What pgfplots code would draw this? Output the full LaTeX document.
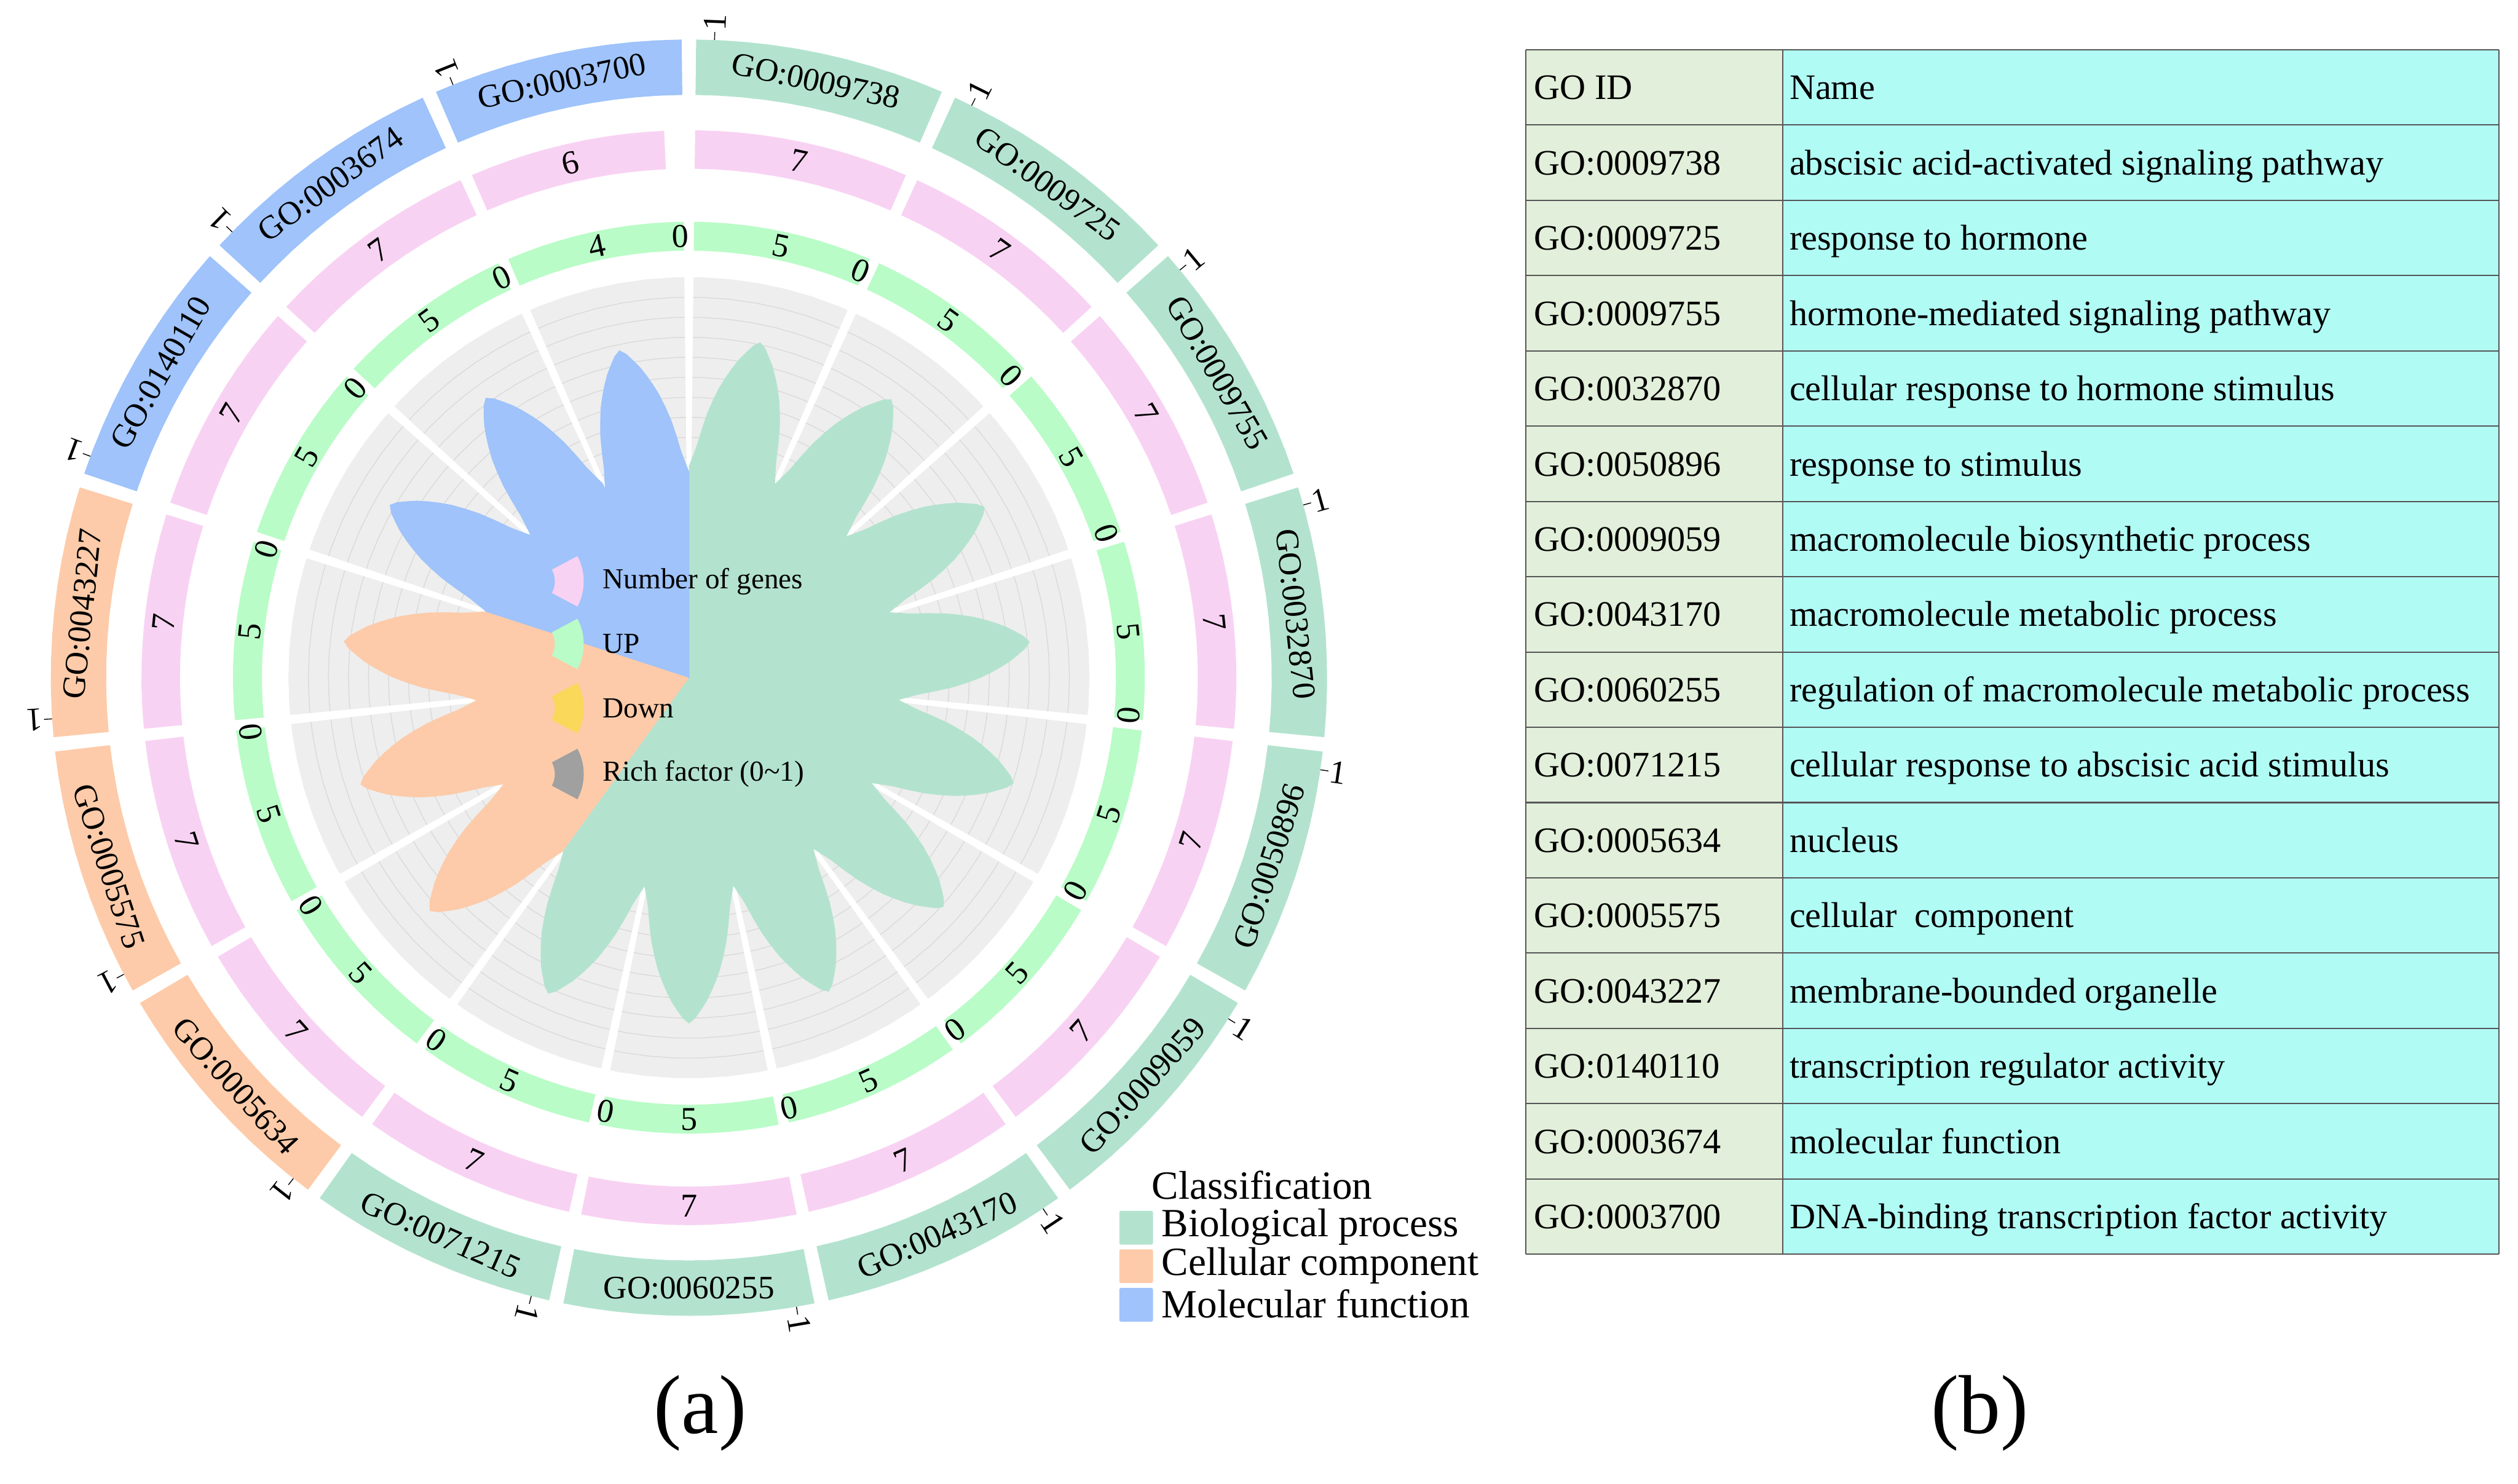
\documentclass[border=0pt]{standalone}
\usepackage{fontspec}
\setmainfont{Liberation Serif}
\usepackage{pgfplots}
\pgfplotsset{compat=1.18}
\usepackage{pgfplotstable}
\usepgfplotslibrary{polar}

\definecolor{bp}{HTML}{B3E3CE}
\definecolor{cc}{HTML}{FDCBA9}
\definecolor{mf}{HTML}{9FC3FA}
\definecolor{genes}{HTML}{F8D2F3}
\definecolor{upc}{HTML}{B9FCC7}
\definecolor{downc}{HTML}{F9D85A}
\definecolor{richc}{HTML}{A0A0A0}
\definecolor{bg}{HTML}{EEEEEE}
\definecolor{gridc}{HTML}{DADADA}
\definecolor{idcol}{HTML}{E2EFDA}
\definecolor{namecol}{HTML}{B1FBF5}
\definecolor{tabline}{HTML}{555555}

\newcommand\fgo{\fontsize{11.6pt}{12pt}\selectfont}
\newcommand\fnum{\fontsize{11.8pt}{12pt}\selectfont}
\newcommand\fleg{\fontsize{10.3pt}{11pt}\selectfont}
\newcommand\fcls{\fontsize{14.2pt}{15pt}\selectfont}
\newcommand\ftab{\fontsize{12.7pt}{13pt}\selectfont}
\newcommand\flab{\fontsize{29.6pt}{30pt}\selectfont}

% one row per GO term, in clockwise order from the top
\pgfplotstableread{
k id cat genes up down rich
0 GO:0009738 bp 7 5 0 0.855
1 GO:0009725 bp 7 5 0 0.858
2 GO:0009755 bp 7 5 0 0.851
3 GO:0032870 bp 7 5 0 0.854
4 GO:0050896 bp 7 5 0 0.851
5 GO:0009059 bp 7 5 0 0.854
6 GO:0043170 bp 7 5 0 0.857
7 GO:0060255 bp 7 5 0 0.862
8 GO:0071215 bp 7 5 0 0.862
9 GO:0005634 cc 7 5 0 0.869
10 GO:0005575 cc 7 5 0 0.861
11 GO:0043227 cc 7 5 0 0.865
12 GO:0140110 mf 7 5 0 0.861
13 GO:0003674 mf 7 5 0 0.862
14 GO:0003700 mf 6 4 0 0.834
}\godata

% points along an arc (angle from #1 to #2, radius #3, #4 steps)
\newcommand\addarc[4]{%
  \foreach \jj in {0,...,#4}{%
    \pgfmathsetmacro\angv{(#1)+((#2)-(#1))/(#4)*\jj}%
    \xdef\pts{\pts(\angv,#3)}}}
% ring tile: angles #1..#2, radii #3..#4, colour #5
\newcommand\tile[5]{%
  \gdef\pts{}\addarc{#1}{#2}{#4}{10}\addarc{#2}{#1}{#3}{10}%
  \edef\tmp{\noexpand\addplot[draw=none,fill=#5] coordinates {\pts};}\tmp}
% readable tangential rotation
\newcommand\rotfor[1]{%
  \pgfmathsetmacro\mm{mod((#1)+720,360)}%
  \pgfmathsetmacro\rot{ifthenelse(\mm<180.01,\mm-90,\mm+90)}}
\newcommand\icon[2]{%
  \fill[#2] ([shift={(330,#1)}]-28:15.5) arc[start angle=-28,end angle=28,radius=0.31cm]
    -- ([shift={(330,#1)}]28:33.5) arc[start angle=28,end angle=-28,radius=0.67cm] -- cycle;}

\begin{document}
\begin{tikzpicture}[x=0.02cm,y=0.02cm]
\useasboundingbox (0,0) rectangle (1568,924);
\coordinate (C) at (429,502);
\begin{polaraxis}[
  at={(C)}, anchor=center,
  width=16cm, height=16cm, scale only axis,
  xmin=0, xmax=360, ymin=0, ymax=400,
  hide axis, clip=false,
]
% rich factor track background
\gdef\pts{}\addarc{0}{360}{249.5}{90}
\edef\tmp{\noexpand\addplot[draw=none,fill=bg] coordinates {\pts};}\tmp
\foreach \g in {1,...,19}{%
  \pgfmathsetmacro\rr{249.5*\g/20}%
  \gdef\pts{}\addarc{0}{360}{\rr}{90}%
  \edef\tmp{\noexpand\addplot[draw=gridc,line width=0.3pt] coordinates {\pts};}\tmp}
\foreach \k in {0,...,14}{%
  \pgfmathsetmacro\bb{90-24*\k}\pgfmathsetmacro\bl{\bb-0.65}\pgfmathsetmacro\br{\bb+0.65}%
  \edef\tmp{\noexpand\addplot[draw=none,fill=white] coordinates {(\bb,0)(\bl,251)(\br,251)};}\tmp}

% petals and ring tiles
\foreach \k in {0,...,14}{%
  \pgfplotstablegetelem{\k}{cat}\of\godata \let\cat\pgfplotsretval
  \pgfplotstablegetelem{\k}{genes}\of\godata \let\gn\pgfplotsretval
  \pgfplotstablegetelem{\k}{up}\of\godata \let\gup\pgfplotsretval
  \pgfplotstablegetelem{\k}{down}\of\godata \let\gdn\pgfplotsretval
  \pgfplotstablegetelem{\k}{rich}\of\godata \let\rich\pgfplotsretval
  \pgfmathsetmacro\aone{66-24*\k}\pgfmathsetmacro\atwo{90-24*\k}\pgfmathsetmacro\ac{78-24*\k}%
  \xdef\pts{(\ac,0)}%
  \foreach \p/\f in {-12/.615,-11/.643,-10/.676,-9/.724,-8/.772,-7/.812,-6/.85,-5/.882,-4/.912,-3/.94,-2/.963,-1/.986,0/1,1/.986,2/.963,3/.94,4/.912,5/.882,6/.85,7/.812,8/.772,9/.724,10/.676,11/.643,12/.615}{%
    \pgfmathsetmacro\angv{\ac+\p}\pgfmathsetmacro\rr{249.5*\rich*\f}%
    \xdef\pts{\pts(\angv,\rr)}}%
  \edef\tmp{\noexpand\addplot[draw=\cat,line width=0.3pt,fill=\cat] coordinates {\pts};}\tmp
  \tile{\aone+0.65}{\atwo-0.65}{363}{397.5}{\cat}%
  \pgfmathsetmacro\ps{\atwo-0.65}\pgfmathsetmacro\pe{\ps-22.7*(0.4+0.6*\gn/7)}%
  \tile{\pe}{\ps}{317}{341}{genes}%
  \pgfmathsetmacro\um{\atwo-0.65-22.7*\gup/(\gup+\gdn)}%
  \tile{\um}{\atwo-0.65}{266}{284}{upc}%
  \ifdim\gdn pt>0pt \tile{\aone+0.65}{\um}{266}{284}{downc}\fi
  \pgfmathsetmacro\ta{\atwo-2.3}%
  \edef\tmp{\noexpand\addplot[draw=black,line width=0.3pt] coordinates {(\ta,397.5)(\ta,402.5)};}\tmp
}

% labels
\foreach \k in {0,...,14}{%
  \pgfplotstablegetelem{\k}{id}\of\godata \let\gid\pgfplotsretval
  \pgfplotstablegetelem{\k}{genes}\of\godata \let\gn\pgfplotsretval
  \pgfplotstablegetelem{\k}{up}\of\godata \let\gup\pgfplotsretval
  \pgfplotstablegetelem{\k}{down}\of\godata \let\gdn\pgfplotsretval
  \pgfmathsetmacro\aone{66-24*\k}\pgfmathsetmacro\atwo{90-24*\k}\pgfmathsetmacro\ac{78-24*\k}%
  \rotfor{\ac}%
  \edef\tmp{\noexpand\node[font=\noexpand\fgo,rotate=\rot] at (axis cs:\ac,380) {\gid};}\tmp
  \edef\tmp{\noexpand\node[font=\noexpand\fnum,rotate=\rot] at (axis cs:\ac,275) {\gup};}\tmp
  \pgfmathsetmacro\ps{\atwo-0.65}\pgfmathsetmacro\pe{\ps-22.7*(0.4+0.6*\gn/7)}%
  \pgfmathsetmacro\pmid{(\ps+\pe)/2}\rotfor{\pmid}%
  \edef\tmp{\noexpand\node[font=\noexpand\fnum,rotate=\rot] at (axis cs:\pmid,329) {\gn};}\tmp
  \pgfmathsetmacro\dmid{\aone+1.1}\rotfor{\dmid}%
  \edef\tmp{\noexpand\node[font=\noexpand\fnum,rotate=\rot] at (axis cs:\dmid,275) {\gdn};}\tmp
  \pgfmathsetmacro\ta{\atwo-2.3}%
  \edef\tmp{\noexpand\node[font=\noexpand\fnum,rotate=\ta,inner sep=0pt] at (axis cs:\ta,408.5) {1};}\tmp
}
\end{polaraxis}

% track legend in the middle
\icon{562}{genes}\icon{523}{upc}\icon{483}{downc}\icon{442}{richc}
\begin{scope}[every node/.style={font=\fleg,anchor=west,inner sep=0pt}]
\node at (375,562) {Number of genes};
\node at (375,523) {UP};
\node at (375,483) {Down};
\node at (375,442) {Rich factor (0\textasciitilde 1)};
\end{scope}

% classification legend
\node[font=\fcls,anchor=west,inner sep=0pt] at (717,186) {Classification};
\fill[bp,rounded corners=0.6pt] (697,149) rectangle (718,170);
\fill[cc,rounded corners=0.6pt] (697,125) rectangle (718,146);
\fill[mf,rounded corners=0.6pt] (697,101) rectangle (718,122);
\begin{scope}[every node/.style={font=\fcls,anchor=west,inner sep=0pt}]
\node at (723,160) {Biological process};
\node at (723,136) {Cellular component};
\node at (723,112) {Molecular function};
\end{scope}

% table (b)
\fill[idcol] (950,143) rectangle (1110,893);
\fill[namecol] (1110,143) rectangle (1556,893);
\foreach \i in {0,...,16}{\draw[tabline,line width=0.45pt] (950,{893-46.875*\i}) -- (1556,{893-46.875*\i});}
\draw[tabline,line width=0.45pt] (950,143)--(950,893) (1110,143)--(1110,893) (1556,143)--(1556,893);
\begin{scope}[every node/.style={font=\ftab,anchor=base west,inner sep=0pt}]
\node at (955,{893-23.44-7.5}) {GO ID};
\node at (1114,{893-23.44-7.5}) {Name};
\foreach \i/\gid/\nm in {
  1/GO:0009738/abscisic acid-activated signaling pathway,
  2/GO:0009725/response to hormone,
  3/GO:0009755/hormone-mediated signaling pathway,
  4/GO:0032870/cellular response to hormone stimulus,
  5/GO:0050896/response to stimulus,
  6/GO:0009059/macromolecule biosynthetic process,
  7/GO:0043170/macromolecule metabolic process,
  8/GO:0060255/regulation of macromolecule metabolic process,
  9/GO:0071215/cellular response to abscisic acid stimulus,
  10/GO:0005634/nucleus,
  11/GO:0005575/cellular\ \ component,
  12/GO:0043227/membrane-bounded organelle,
  13/GO:0140110/transcription regulator activity,
  14/GO:0003674/molecular function,
  15/GO:0003700/DNA-binding transcription factor activity}{%
  \node at (955,{893-46.875*\i-23.44-7.5}) {\gid};
  \node at (1114,{893-46.875*\i-23.44-7.5}) {\nm};}
\end{scope}

\node[font=\flab] at (436,44) {(a)};
\node[font=\flab] at (1233,44) {(b)};
\end{tikzpicture}
\end{document}
